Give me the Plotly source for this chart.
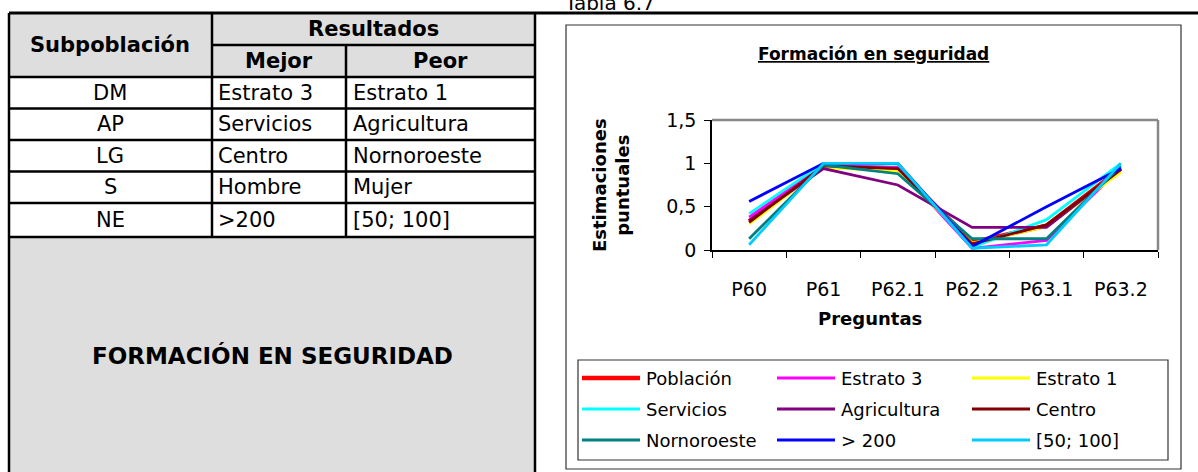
import plotly.graph_objects as go

# datos del gráfico
preguntas = ["P60", "P61", "P62.1", "P62.2", "P63.1", "P63.2"]
series = ["Población", "Estrato 3", "Estrato 1", "Servicios", "Agricultura",
          "Centro", "Nornoroeste", "> 200", "[50; 100]"]
poblacion = [0.33, 0.97, 0.94, 0.09, 0.28, 0.94]
estrato3 = [0.38, 0.98, 0.95, 0.02, 0.11, 0.95]
estrato1 = [0.30, 0.95, 0.91, 0.08, 0.27, 0.90]
servicios = [0.42, 1.00, 0.99, 0.03, 0.35, 1.00]
agricultura = [0.34, 0.94, 0.75, 0.26, 0.26, 0.93]
centro = [0.32, 0.97, 0.94, 0.07, 0.29, 0.93]
nornoroeste = [0.13, 0.98, 0.88, 0.13, 0.13, 0.97]
mas200 = [0.56, 1.00, 1.00, 0.04, 0.50, 0.94]
r50_100 = [0.06, 1.00, 1.00, 0.02, 0.06, 1.00]
valores = [poblacion, estrato3, estrato1, servicios, agricultura,
           centro, nornoroeste, mas200, r50_100]
colores = ["#ff0000", "#ff00ff", "#ffff00", "#00ffff", "#800080",
           "#800000", "#008080", "#0000ff", "#00ccff"]
grosor = [4.5, 2.8, 2.8, 2.8, 2.8, 2.8, 2.8, 2.8, 2.8]

# datos de la tabla
subpob = ["DM", "AP", "LG", "S", "NE"]
mejor = ["Estrato 3", "Servicios", "Centro", "Hombre", ">200"]
peor = ["Estrato 1", "Agricultura", "Nornoroeste", "Mujer", "[50; 100]"]

W, H = 1198, 472
L, R, T, B = 712, 1158, 120, 250   # área del gráfico en pixeles
FONT = "DejaVu Sans"


def px(x):
    return (x - L) / (R - L)


def py(y):
    return (B - y) / (B - T)


fig = go.Figure()
for nombre, vals, col, w in zip(series, valores, colores, grosor):
    fig.add_trace(go.Scatter(x=preguntas, y=vals, mode="lines", name=nombre,
                             line=dict(color=col, width=w), showlegend=False))

shapes = []
ann = []


def linea(x0, y0, x1, y1, color="black", w=2.5):
    shapes.append(dict(type="line", xref="paper", yref="paper",
                       x0=px(x0), y0=py(y0), x1=px(x1), y1=py(y1),
                       line=dict(color=color, width=w)))


def texto(t, x, y, size, bold=False, xanchor="center", yanchor="middle"):
    if bold:
        t = "<b>" + t + "</b>"
    ann.append(dict(text=t, x=px(x), y=py(y), xref="paper", yref="paper",
                    showarrow=False, xanchor=xanchor, yanchor=yanchor,
                    font=dict(family=FONT, size=size, color="black")))


# ---- tabla ----
gris = "#dedede"
shapes.append(dict(type="rect", xref="paper", yref="paper", x0=px(9), x1=px(535),
                   y0=py(13), y1=py(77), fillcolor=gris, line=dict(width=0), layer="below"))
shapes.append(dict(type="rect", xref="paper", yref="paper", x0=px(9), x1=px(535),
                   y0=py(237), y1=py(480), fillcolor=gris, line=dict(width=0), layer="below"))
linea(9, 13, 1198, 13, w=3)
linea(9, 13, 9, 480)
linea(535, 13, 535, 480)
linea(212, 45, 535, 45)
filas = [77, 108.5, 140, 171.5, 203, 237]
for yy in filas:
    linea(9, yy, 535, yy)
linea(212, 13, 212, 237)
linea(346, 45, 346, 237)

texto("Subpoblación", 110, 45, 21, bold=True)
texto("Resultados", 373, 29, 21, bold=True)
texto("Mejor", 279, 61, 21, bold=True)
texto("Peor", 440, 61, 21, bold=True)
for i in range(len(subpob)):
    yc = (filas[i] + filas[i + 1]) / 2
    texto(subpob[i], 110, yc, 21)
    texto(mejor[i], 216, yc, 21, xanchor="left")
    texto(peor[i], 351, yc, 21, xanchor="left")
texto("FORMACIÓN EN SEGURIDAD", 272, 355, 23, bold=True)
texto("Tabla 6.7", 562, 17, 20, xanchor="left", yanchor="bottom")

# ---- marco del gráfico ----
shapes.append(dict(type="rect", xref="paper", yref="paper", x0=px(566), x1=px(1181),
                   y0=py(25), y1=py(469), line=dict(color="#333333", width=1.2)))
linea(L, T, R, T, color="#888888", w=2.5)
linea(R, T, R, B, color="#888888", w=2.5)

texto("<u>Formación en seguridad</u>", 873, 54, 17, bold=True)
texto("Preguntas", 870, 318, 18, bold=True)
ann.append(dict(text="<b>Estimaciones<br>puntuales</b>", x=px(611), y=py(185),
                xref="paper", yref="paper", showarrow=False, textangle=-90,
                xanchor="center", yanchor="middle",
                font=dict(family=FONT, size=18, color="black")))

# ---- leyenda ----
shapes.append(dict(type="rect", xref="paper", yref="paper", x0=px(578), x1=px(1168),
                   y0=py(360), y1=py(460), line=dict(color="#333333", width=1.2)))
col_x = [582, 777, 972]
fila_y = [378, 409, 440]
for i, nombre in enumerate(series):
    x0 = col_x[i % 3]
    y0 = fila_y[i // 3]
    linea(x0, y0, x0 + 58, y0, color=colores[i], w=grosor[i])
    texto(nombre, x0 + 62, y0, 18, xanchor="left")

fig.update_layout(
    width=W, height=H,
    margin=dict(l=L, r=W - R, t=T, b=H - B),
    paper_bgcolor="white", plot_bgcolor="white",
    showlegend=False,
    shapes=shapes, annotations=ann,
    font=dict(family=FONT, size=18, color="black"),
)
fig.update_xaxes(type="category", range=[-0.5, 5.5], showline=True, linecolor="black",
                 linewidth=1.5, ticks="outside", tickson="boundaries", ticklen=6,
                 tickcolor="black", showgrid=False, zeroline=False,
                 ticklabelstandoff=21, tickfont=dict(size=19))
fig.update_yaxes(range=[0, 1.5], tickvals=[0, 0.5, 1, 1.5],
                 ticktext=["0", "0,5", "1", "1,5"], showline=True, linecolor="black",
                 linewidth=1.5, ticks="outside", ticklen=6, tickcolor="black",
                 showgrid=False, zeroline=False, ticklabelstandoff=4,
                 tickfont=dict(size=19))

# quitar el margen del body para que el gráfico quede en (0, 0)
fig.write_html("out.html", config={"displayModeBar": False},
               post_script="document.body.style.margin='0px';")
